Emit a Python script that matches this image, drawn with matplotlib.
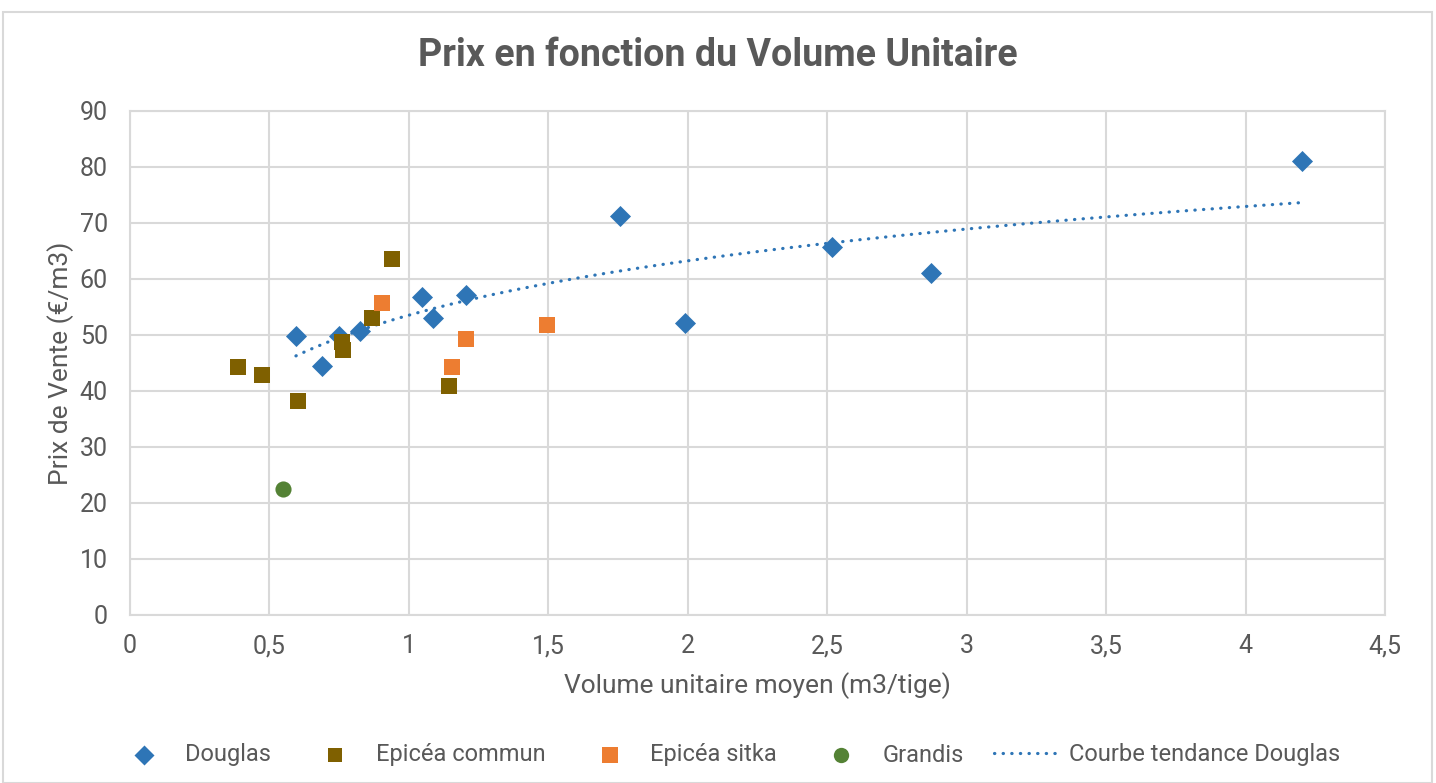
import matplotlib.pyplot as plt
import numpy as np
from matplotlib.patches import Rectangle

plt.rcParams['font.family'] = ['Roboto', 'DejaVu Sans']

# Douglas
douglas_x = [0.595, 0.688, 0.749, 0.825, 1.047, 1.086, 1.205, 1.757, 1.990, 2.517, 2.872, 4.202]
douglas_y = [49.8, 44.5, 49.8, 50.7, 56.8, 53.0, 57.1, 71.3, 52.1, 65.7, 61.1, 81.1]

# Epicéa commun
commun_x = [0.387, 0.473, 0.602, 0.760, 0.764, 0.868, 0.939, 1.144]
commun_y = [44.3, 42.9, 38.2, 48.7, 47.3, 53.0, 63.6, 40.9]

# Epicéa sitka
sitka_x = [0.904, 1.205, 1.155, 1.495]
sitka_y = [55.7, 49.3, 44.3, 51.8]

# Grandis
grandis_x = [0.549]
grandis_y = [22.5]

x_ticks = [0, 0.5, 1, 1.5, 2, 2.5, 3, 3.5, 4, 4.5]
x_ticklabels = ['0', '0,5', '1', '1,5', '2', '2,5', '3', '3,5', '4', '4,5']
y_ticks = [0, 10, 20, 30, 40, 50, 60, 70, 80, 90]

txt = '#595959'
grid = '#D9D9D9'

fig = plt.figure(figsize=(14.36, 7.83), dpi=100)
ax = fig.add_axes([130 / 1436, 1 - 615 / 783, (1385 - 130) / 1436, (615 - 111) / 783])

# cadre du graphique
fig.patches.append(Rectangle((3 / 1436, 0), 1429 / 1436, 1 - 12 / 783, transform=fig.transFigure,
                             fill=False, edgecolor=grid, linewidth=1.5))

ax.scatter(douglas_x, douglas_y, marker='D', s=115, color='#2E75B6', linewidths=0,
           label='Douglas', zorder=3)
ax.scatter(commun_x, commun_y, marker='s', s=118, color='#7F6000', linewidths=0,
           label='Epicéa commun', zorder=3)
ax.scatter(sitka_x, sitka_y, marker='s', s=130, color='#ED7D31', linewidths=0,
           label='Epicéa sitka', zorder=3)
ax.scatter(grandis_x, grandis_y, marker='o', s=135, color='#548235', linewidths=0,
           label='Grandis', zorder=3)

# tendance logarithmique sur Douglas
b, a = np.polyfit(np.log(douglas_x), douglas_y, 1)
xt = np.linspace(min(douglas_x), max(douglas_x), 300)
ax.plot(xt, a + b * np.log(xt), linestyle=(0, (0.1, 2.6)), dash_capstyle='round',
        color='#2E75B6', linewidth=2.3, label='Courbe tendance Douglas', zorder=2)

ax.set_xlim(0, 4.5)
ax.set_ylim(0, 90)
ax.set_xticks(x_ticks)
ax.set_xticklabels(x_ticklabels)
ax.set_yticks(y_ticks)
ax.grid(True, color=grid, linewidth=1.5)
ax.set_axisbelow(True)
for s in ax.spines.values():
    s.set_color(grid)
    s.set_linewidth(1.5)
ax.tick_params(colors=txt, labelsize=18, length=0)
ax.tick_params(axis='x', pad=14)
ax.tick_params(axis='y', pad=16)

fig.text(0.5, 1 - 55 / 783, 'Prix en fonction du Volume Unitaire', fontsize=27, fontweight='bold',
         color=txt, ha='center', va='center')
ax.set_xlabel('Volume unitaire moyen (m3/tige)', fontsize=19, color=txt, labelpad=10)
ax.set_ylabel('Prix de Vente (€/m3)', fontsize=19, color=txt, labelpad=4)

fig.legend(loc='center', bbox_to_anchor=(725 / 1436, 1 - 755 / 783), ncol=5, frameon=False,
           fontsize=17, labelcolor=txt, handletextpad=0.3, columnspacing=1.3, handlelength=2.85,
           markerscale=0.95)

fig.savefig('out.png', dpi=100)
